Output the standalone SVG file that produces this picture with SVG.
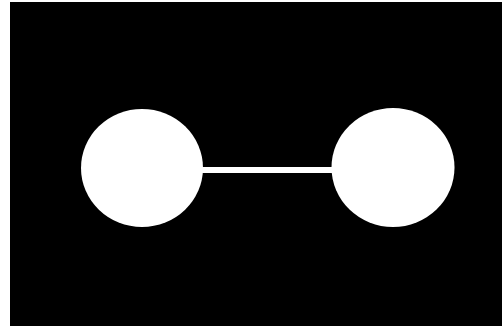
<svg xmlns="http://www.w3.org/2000/svg" width="502" height="326" viewBox="0 0 502 326">
<style>.node{fill:#fff}.edge{stroke:#fff;stroke-width:6}</style>
<rect x="0" y="0" width="502" height="326" fill="#fff"/>
<rect x="10" y="2" width="492" height="324" fill="#000"/>
<g id="connectors"><line class="edge" x1="200" y1="170" x2="335" y2="170"/></g>
<g id="node1"><ellipse class="node" cx="142" cy="168" rx="61" ry="59"/></g>
<g id="node2"><ellipse class="node" cx="393" cy="167.5" rx="61.5" ry="59.5"/></g>
</svg>
